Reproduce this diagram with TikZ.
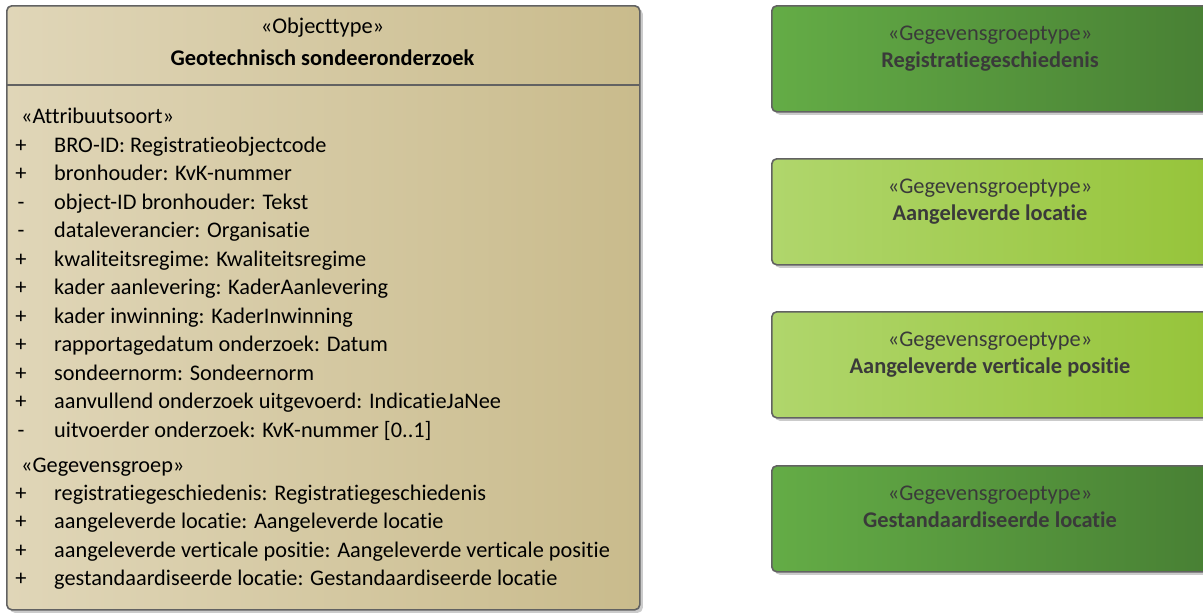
\documentclass[tikz,border=0pt]{standalone}
\usepackage{fontspec}
\setmainfont{Carlito}[Ligatures={NoCommon}]
\usepackage{tikz}
\usetikzlibrary{shadows}
\tikzstyle{canvas} = [x = 1pt, y = -1pt]
\definecolor{borderColor}{RGB}{98,98,98}
\definecolor{tanLeft}{RGB}{224,214,184}
\definecolor{tanRight}{RGB}{201,187,140}
\definecolor{darkGreenLeft}{RGB}{100,172,70}
\definecolor{darkGreenRight}{RGB}{72,128,52}
\definecolor{lightGreenLeft}{RGB}{176,214,108}
\definecolor{lightGreenRight}{RGB}{150,196,58}
\definecolor{greenText}{RGB}{58,58,58}
\tikzstyle{boxStyle} = [draw=borderColor, line width=1.6pt, rounded corners=5pt, inner sep=0pt, anchor=north west, drop shadow={shadow xshift=3pt, shadow yshift=-3pt, opacity=0.45, fill=black!45}]
\tikzstyle{objectBoxStyle} = [boxStyle, left color=tanLeft, right color=tanRight]
\tikzstyle{darkGroupStyle} = [boxStyle, left color=darkGreenLeft, right color=darkGreenRight]
\tikzstyle{lightGroupStyle} = [boxStyle, left color=lightGreenLeft, right color=lightGreenRight]
\tikzstyle{dividerLine} = [draw=borderColor, line width=1.6pt]
\tikzstyle{boxText} = [inner sep=0pt, anchor=base, font=\fontsize{22.4}{27}\selectfont]
\tikzstyle{boxTitle} = [boxText, font=\fontsize{22.4}{27}\selectfont\bfseries]
\tikzstyle{signText} = [inner sep=0pt, anchor=base, font=\fontsize{22.4}{27}\selectfont]
\tikzstyle{attributeText} = [inner sep=0pt, anchor=base west, font=\fontsize{22.3}{27}\selectfont]
\newcommand{\lineSkip}{28.5}
\newcommand{\attributeLine}[3]{\node [signText] (attributeSign#1) at (21, 152 + #1 * \lineSkip) {#2}; \node [attributeText] (attribute#1) at (54, 152 + #1 * \lineSkip) {#3};}
\newcommand{\groupLine}[3]{\node [signText] (groupSign#1) at (21, 500 + #1 * \lineSkip) {#2}; \node [attributeText] (group#1) at (54, 500 + #1 * \lineSkip) {#3};}
\newcommand{\groupTypeBox}[4]{
  \node [#3, minimum width=438pt, minimum height=106pt] (#1) at (771, #2) {};
  \node [boxText, text=greenText] (#1Stereotype) at (990, #2 + 35) {«Gegevensgroeptype»};
  \node [boxTitle, text=greenText] (#1Name) at (990, #2 + 62) {#4};
}

\begin{document}
\begin{tikzpicture}[canvas]
        \useasboundingbox (0,0) rectangle (1203,614);

        \node [objectBoxStyle, minimum width=633pt, minimum height=604pt] (objectBox) at (6,5) {};
        \node [boxText] (objectStereotype) at (322.5, 33) {«Objecttype»};
        \node [boxTitle] (objectName) at (322.5, 65) {Geotechnisch sondeeronderzoek};
        \coordinate (dividerLeft) at (6, 85);
        \coordinate (dividerRight) at (639, 85);
        \draw [dividerLine] (dividerLeft) -- (dividerRight);

        \node [attributeText] (attributeHeader) at (21, 123) {«Attribuutsoort»};
        \attributeLine{0}{+}{BRO-ID: Registratieobjectcode}
        \attributeLine{1}{+}{bronhouder: KvK-nummer}
        \attributeLine{2}{-}{object-ID bronhouder: Tekst}
        \attributeLine{3}{-}{dataleverancier: Organisatie}
        \attributeLine{4}{+}{kwaliteitsregime: Kwaliteitsregime}
        \attributeLine{5}{+}{kader aanlevering: KaderAanlevering}
        \attributeLine{6}{+}{kader inwinning: KaderInwinning}
        \attributeLine{7}{+}{rapportagedatum onderzoek: Datum}
        \attributeLine{8}{+}{sondeernorm: Sondeernorm}
        \attributeLine{9}{+}{aanvullend onderzoek uitgevoerd: IndicatieJaNee}
        \attributeLine{10}{-}{uitvoerder onderzoek: KvK-nummer [0..1]}

        \node [attributeText] (groupHeader) at (21, 472) {«Gegevensgroep»};
        \groupLine{0}{+}{registratiegeschiedenis: Registratiegeschiedenis}
        \groupLine{1}{+}{aangeleverde locatie: Aangeleverde locatie}
        \groupLine{2}{+}{aangeleverde verticale positie: Aangeleverde verticale positie}
        \groupLine{3}{+}{gestandaardiseerde locatie: Gestandaardiseerde locatie}

        \groupTypeBox{registratieBox}{5}{darkGroupStyle}{Registratiegeschiedenis}
        \groupTypeBox{locatieBox}{158}{lightGroupStyle}{Aangeleverde locatie}
        \groupTypeBox{positieBox}{311}{lightGroupStyle}{Aangeleverde verticale positie}
        \groupTypeBox{standaardBox}{465}{darkGroupStyle}{Gestandaardiseerde locatie}
      \end{tikzpicture}
\end{document}
